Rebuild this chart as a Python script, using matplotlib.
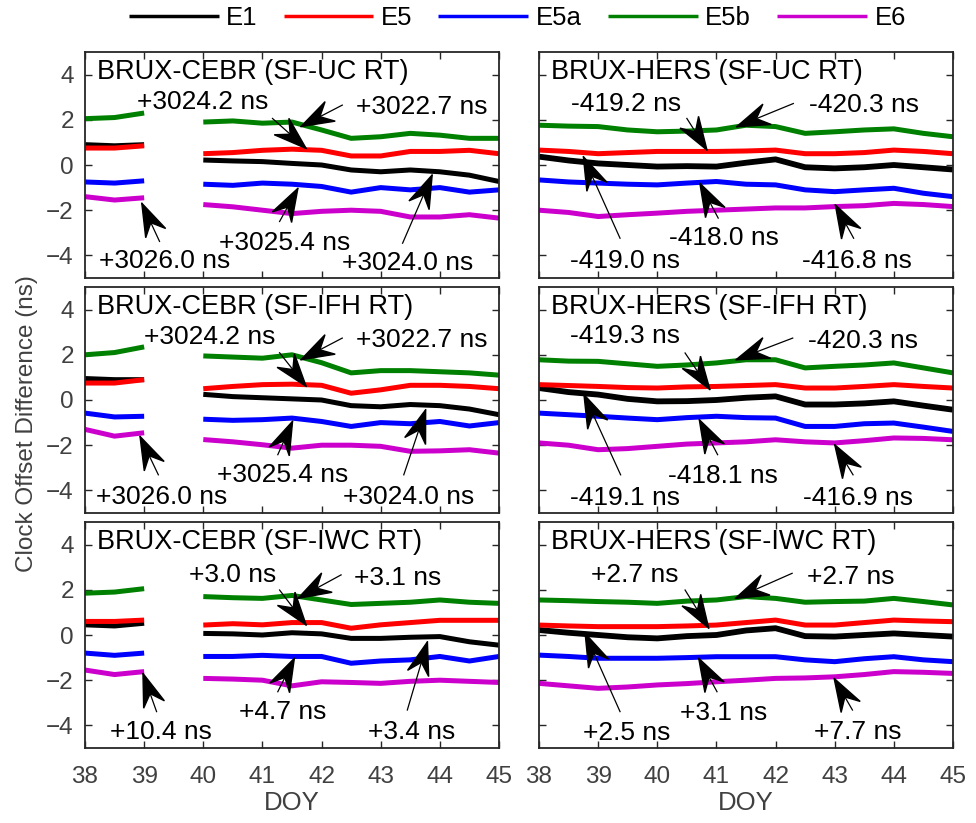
import numpy as np
import matplotlib.pyplot as plt
from matplotlib.patches import Polygon

plt.rcParams['font.family'] = ['Liberation Sans', 'DejaVu Sans']

### Data ###
signals = ["E1", "E5", "E5a", "E5b", "E6"]
colors = ["black", "#ff0000", "#0000ff", "#008000", "#cc00cc"]

doy = [38, 38.5, 39, 39.5, 40, 40.5, 41, 41.5, 42, 42.5, 43, 43.5, 44, 44.5, 45]
nan = np.nan

# BRUX-CEBR (gap on DOY 39-40), order E1, E5, E5a, E5b, E6
cebr_uc = [
    [0.9, 0.85, 0.9, nan, 0.22, 0.18, 0.15, 0.07, 0.0, -0.22, -0.3, -0.22, -0.3, -0.45, -0.73],
    [0.75, 0.75, 0.85, nan, 0.5, 0.55, 0.65, 0.7, 0.65, 0.4, 0.4, 0.6, 0.6, 0.65, 0.5],
    [-0.75, -0.8, -0.7, nan, -0.85, -0.9, -0.8, -0.85, -0.95, -1.2, -1.0, -1.1, -1.0, -1.2, -1.1],
    [2.05, 2.1, 2.3, nan, 1.9, 1.95, 1.85, 1.9, 1.55, 1.18, 1.25, 1.4, 1.32, 1.18, 1.18],
    [-1.4, -1.55, -1.45, nan, -1.75, -1.85, -2.0, -2.15, -2.05, -2.0, -2.05, -2.3, -2.3, -2.2, -2.35],
]
cebr_ifh = [
    [0.95, 0.9, 0.9, nan, 0.25, 0.15, 0.1, 0.05, 0.0, -0.25, -0.3, -0.2, -0.25, -0.4, -0.65],
    [0.75, 0.75, 0.9, nan, 0.5, 0.6, 0.68, 0.7, 0.65, 0.3, 0.45, 0.65, 0.65, 0.6, 0.5],
    [-0.58, -0.75, -0.72, nan, -0.85, -0.9, -0.87, -0.8, -0.95, -1.17, -1.0, -1.05, -0.95, -1.15, -1.0],
    [2.0, 2.1, 2.35, nan, 1.95, 1.9, 1.85, 2.0, 1.65, 1.2, 1.3, 1.3, 1.25, 1.2, 1.1],
    [-1.3, -1.6, -1.45, nan, -1.75, -1.85, -1.98, -2.13, -2.0, -2.0, -2.05, -2.27, -2.25, -2.2, -2.35],
]
cebr_iwc = [
    [0.45, 0.4, 0.52, nan, 0.07, 0.05, 0.0, 0.1, 0.05, -0.15, -0.15, -0.1, -0.07, -0.3, -0.45],
    [0.6, 0.6, 0.66, nan, 0.44, 0.5, 0.45, 0.55, 0.55, 0.3, 0.45, 0.55, 0.65, 0.65, 0.65],
    [-0.8, -0.9, -0.8, nan, -0.95, -0.95, -0.9, -0.95, -0.95, -1.25, -1.15, -1.1, -0.95, -1.15, -0.95],
    [1.85, 1.9, 2.05, nan, 1.7, 1.65, 1.62, 1.75, 1.55, 1.35, 1.4, 1.45, 1.55, 1.45, 1.4],
    [-1.55, -1.75, -1.62, nan, -1.92, -1.95, -2.0, -2.25, -2.07, -2.1, -2.14, -2.05, -2.0, -2.05, -2.1],
]

# BRUX-HERS
hers_uc = [
    [0.37, 0.2, 0.07, 0.0, -0.07, -0.05, -0.07, 0.1, 0.25, -0.1, -0.15, -0.1, 0.0, -0.1, -0.2],
    [0.66, 0.6, 0.5, 0.55, 0.6, 0.6, 0.6, 0.62, 0.66, 0.5, 0.5, 0.55, 0.66, 0.6, 0.5],
    [-0.66, -0.75, -0.8, -0.85, -0.88, -0.8, -0.73, -0.85, -0.88, -1.1, -1.18, -1.1, -1.03, -1.25, -1.4],
    [1.76, 1.72, 1.7, 1.55, 1.47, 1.5, 1.55, 1.76, 1.7, 1.4, 1.47, 1.55, 1.6, 1.4, 1.25],
    [-2.0, -2.1, -2.28, -2.2, -2.13, -2.05, -2.0, -1.95, -1.9, -1.9, -1.84, -1.8, -1.7, -1.75, -1.84],
]
hers_ifh = [
    [0.53, 0.35, 0.24, 0.05, -0.06, -0.05, 0.0, 0.1, 0.16, -0.2, -0.2, -0.15, -0.06, -0.25, -0.43],
    [0.68, 0.64, 0.6, 0.55, 0.53, 0.58, 0.6, 0.64, 0.68, 0.53, 0.53, 0.6, 0.68, 0.6, 0.53],
    [-0.58, -0.65, -0.72, -0.8, -0.87, -0.78, -0.72, -0.78, -0.8, -1.17, -1.17, -1.05, -1.02, -1.2, -1.39],
    [1.78, 1.72, 1.71, 1.6, 1.49, 1.55, 1.64, 1.78, 1.78, 1.42, 1.49, 1.55, 1.64, 1.42, 1.2],
    [-1.9, -2.0, -2.2, -2.15, -2.05, -1.95, -1.9, -1.85, -1.76, -1.85, -1.9, -1.8, -1.68, -1.7, -1.76],
]
hers_iwc = [
    [0.22, 0.1, 0.0, -0.1, -0.15, -0.05, 0.0, 0.2, 0.3, -0.05, -0.07, 0.0, 0.07, 0.0, -0.07],
    [0.44, 0.4, 0.37, 0.37, 0.37, 0.4, 0.44, 0.55, 0.66, 0.44, 0.44, 0.55, 0.66, 0.62, 0.59],
    [-0.89, -0.95, -1.03, -1.03, -1.03, -1.0, -0.96, -0.96, -0.96, -1.1, -1.18, -1.05, -0.96, -1.1, -1.18],
    [1.55, 1.52, 1.48, 1.45, 1.4, 1.5, 1.55, 1.7, 1.62, 1.45, 1.48, 1.5, 1.62, 1.48, 1.33],
    [-2.14, -2.25, -2.36, -2.3, -2.21, -2.15, -2.07, -2.0, -1.92, -1.9, -1.85, -1.75, -1.62, -1.65, -1.7],
]

titles = ["BRUX-CEBR (SF-UC RT)", "BRUX-HERS (SF-UC RT)",
          "BRUX-CEBR (SF-IFH RT)", "BRUX-HERS (SF-IFH RT)",
          "BRUX-CEBR (SF-IWC RT)", "BRUX-HERS (SF-IWC RT)"]
panels = [cebr_uc, hers_uc, cebr_ifh, hers_ifh, cebr_iwc, hers_iwc]

# offset labels per panel: text, text pos (x, y), arrow tail (x, y), arrow tip (x, y)
notes = [
    [("+3024.2 ns", 39.99, 2.8, 41.17, 2.06, 41.74, 0.73),
     ("+3022.7 ns", 43.7, 2.57, 42.35, 2.65, 41.65, 1.7),
     ("+3026.0 ns", 39.35, -4.26, 39.26, -3.38, 38.96, -1.69),
     ("+3025.4 ns", 41.37, -3.46, 41.29, -2.5, 41.6, -1.03),
     ("+3024.0 ns", 43.45, -4.34, 43.37, -3.46, 43.87, -0.44)],
    [("-419.2 ns", 39.48, 2.72, 40.5, 2.06, 40.84, 0.66),
     ("-420.3 ns", 43.49, 2.65, 42.3, 2.72, 41.34, 1.69),
     ("-419.0 ns", 39.45, -4.26, 39.37, -3.24, 38.75, 0.37),
     ("-418.0 ns", 41.12, -3.24, 41.03, -2.35, 40.72, -0.81),
     ("-416.8 ns", 43.38, -4.26, 43.32, -3.24, 43.01, -1.76)],
    [("+3024.2 ns", 40.1, 2.79, 41.29, 2.09, 41.74, 0.6),
     ("+3022.7 ns", 43.7, 2.67, 42.35, 2.74, 41.65, 1.78),
     ("+3026.0 ns", 39.3, -4.27, 39.24, -3.31, 38.93, -1.61),
     ("+3025.4 ns", 41.34, -3.31, 41.26, -2.42, 41.51, -0.94),
     ("+3024.0 ns", 43.48, -4.27, 43.39, -3.31, 43.76, -0.43)],
    [("-419.3 ns", 39.45, 2.82, 40.47, 2.08, 40.89, 0.46),
     ("-420.3 ns", 43.48, 2.6, 42.29, 2.74, 41.33, 1.78),
     ("-419.1 ns", 39.45, -4.34, 39.38, -3.31, 38.76, 0.24),
     ("-418.1 ns", 41.11, -3.38, 41.02, -2.42, 40.71, -0.87),
     ("-416.9 ns", 43.4, -4.34, 43.31, -3.31, 43.0, -1.98)],
    [("+3.0 ns", 40.5, 2.66, 41.29, 1.99, 41.74, 0.44),
     ("+3.1 ns", 43.28, 2.51, 42.33, 2.66, 41.6, 1.62),
     ("+10.4 ns", 39.29, -4.28, 39.21, -3.39, 38.98, -1.7),
     ("+4.7 ns", 41.34, -3.39, 41.26, -2.51, 41.54, -1.03),
     ("+3.4 ns", 43.53, -4.28, 43.45, -3.32, 43.79, -0.3)],
    [("+2.7 ns", 39.62, 2.66, 40.47, 1.99, 40.87, 0.3),
     ("+2.7 ns", 43.27, 2.58, 42.28, 2.73, 41.32, 1.62),
     ("+2.5 ns", 39.48, -4.35, 39.37, -3.39, 38.78, 0.07),
     ("+3.1 ns", 41.12, -3.47, 41.01, -2.51, 40.7, -1.03),
     ("+7.7 ns", 43.39, -4.28, 43.3, -3.32, 42.99, -1.92)],
]


def draw_arrow(ax, x0, y0, x1, y1, head_len=33, head_w=11, notch=0.35):
    # shaft in data coords, notched head built in pixel space
    ax.plot([x0, x1], [y0, y1], color="black", lw=0.9, zorder=5)
    t = ax.transData
    p0 = t.transform((x0, y0))
    p1 = t.transform((x1, y1))
    u = (p1 - p0) / np.hypot(*(p1 - p0))
    n = np.array([-u[1], u[0]])
    back = p1 - head_len * u
    pts = [p1, back + head_w * n, p1 - head_len * (1 - notch) * u, back - head_w * n]
    pts = t.inverted().transform(np.array(pts))
    ax.add_patch(Polygon(pts, closed=True, color="black", zorder=6))


### Figure ###
fig = plt.figure(figsize=(9.76, 8.23), dpi=100)

lefts = [85 / 976, 539 / 976]
bottoms = [1 - 278 / 823, 1 - 513 / 823, 1 - 748 / 823]
w = 414 / 976
h = 226 / 823
tick_col = "#404040"

axes = []
for i in range(6):
    row, col = i // 2, i % 2
    ax = fig.add_axes([lefts[col], bottoms[row], w, h])
    ax.set_xlim(38, 45)
    ax.set_ylim(-5, 5)
    ax.set_xticks(range(38, 46))
    ax.set_yticks([-4, -2, 0, 2, 4])
    ax.tick_params(direction="in", top=True, right=True, length=5, width=1,
                   labelsize=17.5, colors="#262626", labelcolor=tick_col, pad=8)
    ax.tick_params(axis="x", pad=13)
    for s in ax.spines.values():
        s.set_linewidth(1.3)
        s.set_color("#262626")
    if row < 2:
        ax.set_xticklabels([])
    if col == 1:
        ax.set_yticklabels([])

    data = panels[i]
    for k in range(5):
        lw = 4.2 if (k == 0 and col == 1) else 3.6
        ax.plot(doy, data[k], color=colors[k], lw=lw, label=signals[k],
                solid_capstyle="butt")

    ax.text(38.2, 4.1, titles[i], fontsize=19.5, ha="left", va="center")
    for label, tx, ty, ax0, ay0, ax1, ay1 in notes[i]:
        ax.text(tx, ty, label, fontsize=19, ha="center", va="center", zorder=7)
        draw_arrow(ax, ax0, ay0, ax1, ay1)
    axes.append(ax)

axes[4].set_xlabel("DOY", fontsize=18.5, color=tick_col, labelpad=2)
axes[5].set_xlabel("DOY", fontsize=18.5, color=tick_col, labelpad=2)
fig.text(0.028, 0.485, "Clock Offset Difference (ns)", rotation=90,
         fontsize=17.5, color=tick_col, ha="center", va="center")

handles, labels = axes[0].get_legend_handles_labels()
leg = fig.legend(handles, labels, loc="center", bbox_to_anchor=(0.53, 0.978),
                 ncol=5, frameon=False, fontsize=18.5, handlelength=3.5,
                 columnspacing=1.0, handletextpad=0.3)
for line in leg.get_lines():
    line.set_linewidth(2.5)

fig.savefig("out.png", dpi=100)
